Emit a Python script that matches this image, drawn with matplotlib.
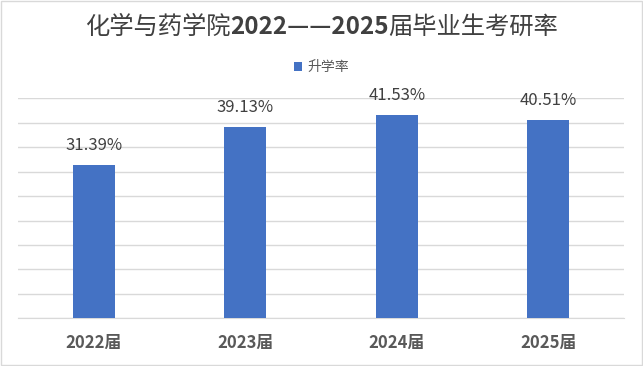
import numpy as np
import matplotlib
matplotlib.use("Agg")
from matplotlib import pyplot as plt
from matplotlib.patches import Rectangle

plt.rcParams['font.family'] = ['Noto Sans CJK SC', 'DejaVu Sans']

categories = ["2022届", "2023届", "2024届", "2025届"]
rates = [31.39, 39.13, 41.53, 40.51]
series_name = "升学率"
title_parts = [("化学与药学院", "normal"), ("2022——2025", "bold"), ("届毕业生考研率", "normal")]

BLUE = "#4472C4"
TEXT = "#595959"

W, H = 643, 366
fig = plt.figure(figsize=(W / 100, H / 100), dpi=100)
ax = fig.add_axes([18 / W, 1 - 318.3 / H, (624 - 18) / W, (318.3 - 98.3) / H])

x = np.arange(len(categories))
ax.bar(x, rates, width=0.28, color=BLUE, zorder=3, label=series_name)

for xi, v in zip(x, rates):
    ax.annotate(f"{v:.2f}%", (xi, v), xytext=(0, 8), textcoords="offset points",
                ha="center", va="bottom", fontsize=12, color="#404040")

ax.set_xlim(-0.5, len(categories) - 0.5)
ax.set_ylim(0, 45)
ax.set_yticks(np.arange(0, 46, 5))
ax.yaxis.grid(True, color="#D9D9D9", linewidth=1, zorder=0)
ax.tick_params(axis="y", left=False, labelleft=False)
ax.tick_params(axis="x", length=0, pad=11)
ax.set_xticks(x)
ax.set_xticklabels(categories, fontsize=12, fontweight="bold", color=TEXT)
for s in ["top", "right", "left"]:
    ax.spines[s].set_visible(False)
ax.spines["bottom"].set_color("#D9D9D9")

# title: Chinese in regular weight, digits in bold, laid out piece by piece
renderer = fig.canvas.get_renderer()
texts = []
for s, w in title_parts:
    t = fig.text(0, 1 - 27 / H, s, ha="left", va="center", fontsize=17.5,
                 fontweight=w, color="#404040")
    texts.append(t)
widths = [t.get_window_extent(renderer).width for t in texts]
xpos = W / 2 - sum(widths) / 2
for t, wd in zip(texts, widths):
    t.set_x(xpos / W)
    xpos += wd

fig.legend(loc="center", bbox_to_anchor=(0.5, 1 - 67 / H), frameon=False,
           fontsize=10, handlelength=0.6, handleheight=0.6, handletextpad=0.4,
           labelcolor=TEXT)

fig.patches.append(Rectangle((0.002, 0.003), 0.996, 0.994, transform=fig.transFigure,
                             fill=False, edgecolor="#D9D9D9", linewidth=1))

fig.savefig("out.png", dpi=100)
